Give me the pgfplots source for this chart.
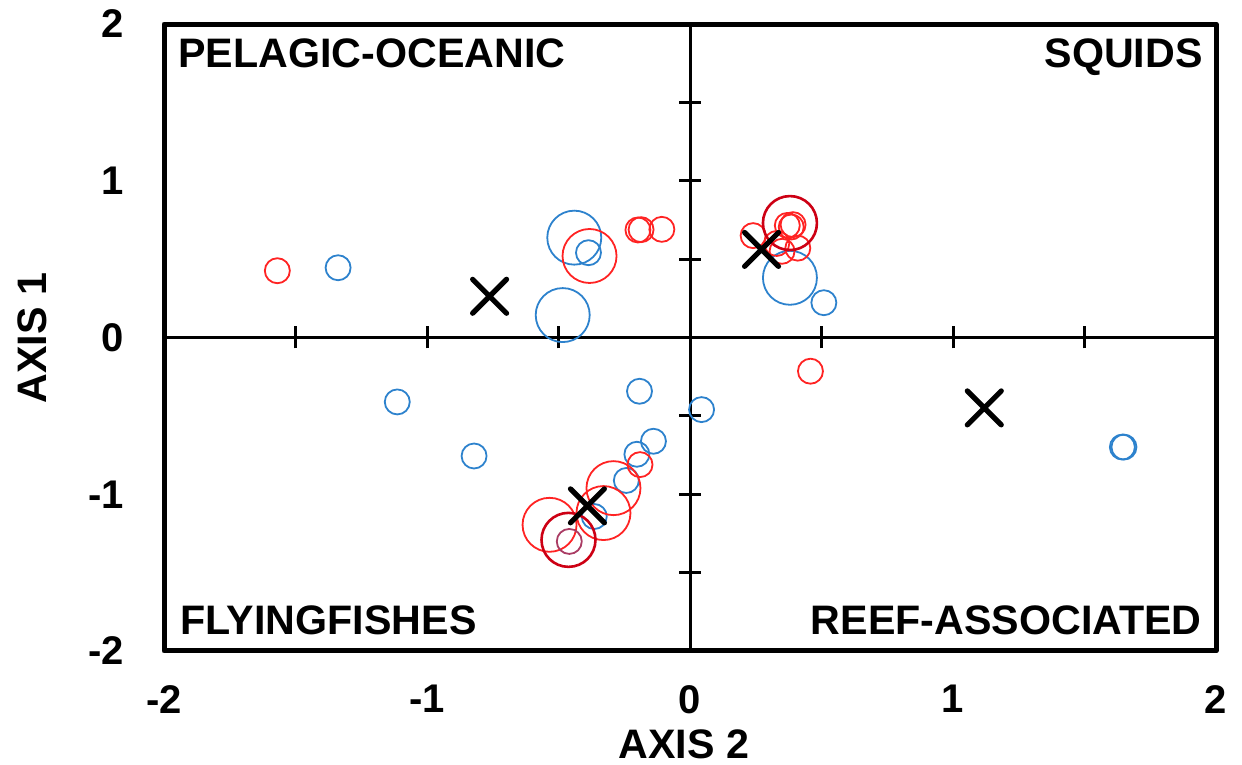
\documentclass[border=0pt]{standalone}
\usepackage{pgfplots}
\pgfplotsset{compat=1.18}
\usepackage{fontspec}
\setmainfont{Liberation Sans}

\definecolor{spblue}{RGB}{45,130,205}
\definecolor{spred}{RGB}{255,35,35}
\definecolor{spdark}{RGB}{205,0,20}
\definecolor{spmix}{RGB}{170,60,100}

\newcommand{\lbl}{\fontsize{20}{24}\selectfont\bfseries}
\newcommand{\qlbl}{\fontsize{20.6}{24}\selectfont\bfseries}

\begin{document}
\begin{tikzpicture}[font=\lbl]
\path[use as bounding box] (0,0) rectangle (621pt,382.5pt);
\begin{axis}[
  at={(82pt,57pt)}, anchor=south west,
  scale only axis, width=526pt, height=313.5pt,
  xmin=-2, xmax=2, ymin=-2, ymax=2,
  axis line style={line width=2.5pt, line join=round},
  xtick={-2,-1,0,1,2}, ytick={-2,-1,0,1,2},
  xticklabels={-2,-1,0,1,2}, yticklabels={-2,-1,0,1,2},
  major tick length=0pt,
  xticklabel style={anchor=north, inner sep=0pt, yshift=-17pt},
  yticklabel style={anchor=east, inner sep=0pt, xshift=-20pt},
  ticklabel style={font=\lbl},
  clip=false,
  small/.style={only marks, mark=o, mark size=6.25pt},
  big/.style={only marks, mark=o, mark size=13.5pt},
]
% zero lines with crossing ticks every 0.5
\draw[line width=1.5pt] (axis cs:-2,0) -- (axis cs:2,0);
\draw[line width=1.5pt] (axis cs:0,-2) -- (axis cs:0,2);
\pgfplotsinvokeforeach{-1.5,-1,-0.5,0.5,1,1.5}{
  \draw[line width=1.5pt] ([yshift=-5.5pt]axis cs:#1,0) -- ([yshift=5.5pt]axis cs:#1,0);
  \draw[line width=1.5pt] ([xshift=-5.5pt]axis cs:0,#1) -- ([xshift=5.5pt]axis cs:0,#1);
}

% blue group
\addplot[small, mark options={draw=spblue, line width=0.9pt}] coordinates {
  (-1.338,0.445) (-0.386,0.541) (0.509,0.222) (-1.113,-0.411)
  (-0.821,-0.756) (-0.192,-0.343) (0.044,-0.46) (-0.139,-0.662)
  (-0.202,-0.745) (-0.242,-0.912) (-0.364,-1.142) (1.644,-0.699)
  (1.650,-0.699)
};
\addplot[big, mark options={draw=spblue, line width=0.9pt}] coordinates {
  (-0.440,0.637) (-0.484,0.143) (0.380,0.381)
};

% red group
\addplot[small, mark options={draw=spred, line width=0.9pt}] coordinates {
  (-1.569,0.426) (-0.198,0.686) (-0.186,0.688) (-0.107,0.690)
  (0.240,0.650) (0.370,0.715) (0.385,0.705) (0.392,0.720)
  (0.330,0.600) (0.410,0.570) (0.350,0.550)
  (0.458,-0.215) (-0.190,-0.811)
};
\addplot[big, mark options={draw=spred, line width=0.9pt}] coordinates {
  (-0.382,0.520) (-0.534,-1.195) (-0.329,-1.120) (-0.291,-0.961)
};
\addplot[big, mark options={draw=spdark, line width=1.3pt}] coordinates {
  (0.380,0.730) (-0.462,-1.291)
};
\addplot[small, mark options={draw=spmix, line width=0.9pt}] coordinates {
  (-0.459,-1.301)
};

% group centroids
\addplot[only marks, mark=x, mark size=12pt,
  mark options={draw=black, line width=2.6pt, line cap=round}] coordinates {
  (-0.762,0.263) (0.272,0.562) (-0.390,-1.074) (1.119,-0.449)
};
\end{axis}

\node[font=\qlbl, anchor=base west, inner sep=0pt] at (89pt,348.5pt) {PELAGIC-OCEANIC};
\node[font=\qlbl, anchor=base east, inner sep=0pt] at (601.5pt,348.5pt) {SQUIDS};
\node[font=\qlbl, anchor=base west, inner sep=0pt] at (90pt,65pt) {FLYINGFISHES};
\node[font=\qlbl, anchor=base east, inner sep=0pt] at (601pt,65pt) {REEF-ASSOCIATED};
\node[font=\qlbl, rotate=90, inner sep=0pt] at (16pt,213.5pt) {AXIS 1};
\node[font=\qlbl, inner sep=0pt] at (342pt,10.5pt) {AXIS 2};
\end{tikzpicture}
\end{document}
